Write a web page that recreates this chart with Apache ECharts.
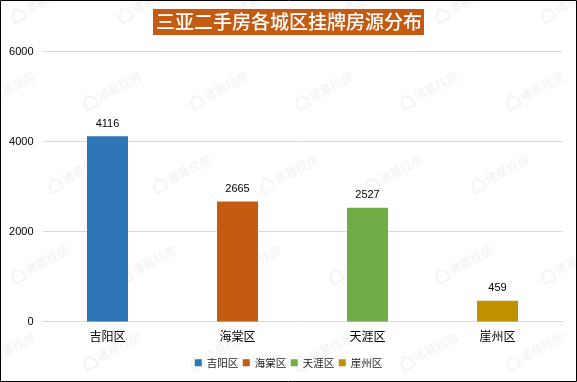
<!DOCTYPE html>
<html>
<head>
<meta charset="utf-8">
<style>
  html, body { margin: 0; padding: 0; background: #fff; }
  #main { width: 577px; height: 382px; }
</style>
<script src="https://cdn.jsdelivr.net/npm/echarts@6/dist/echarts.min.js"></script>
</head>
<body>
<div id="main"></div>
<script>
const titleText = '三亚二手房各城区挂牌房源分布';
const districts = ['吉阳区', '海棠区', '天涯区', '崖州区'];
const listings = [4116, 2665, 2527, 459];
const barColors = ['#2e75b6', '#c55a11', '#70ad47', '#bf9000'];
const yTicks = [0, 2000, 4000, 6000];

const watermarkText = '诸葛找房';
const watermarkRows = [
  {y: 15, xs: [18, 125, 230, 336, 442, 548]},
  {y: 102, xs: [-16, 90, 197, 302, 407, 513]},
  {y: 185, xs: [55, 160, 267, 372, 478]},
  {y: 276, xs: [18, 125, 230, 336, 442, 548]},
  {y: 363, xs: [-16, 90, 197, 302, 407, 513]},
];

const font = '"Noto Sans CJK SC", "Liberation Sans", sans-serif';
const latin = '"Liberation Sans", sans-serif';

// one series per district so the legend gets four entries
const series = districts.map((name, i) => ({
  name: name,
  type: 'bar',
  barWidth: 41,
  barGap: '-100%',
  itemStyle: {color: barColors[i]},
  label: {
    show: true,
    position: 'top',
    distance: 7,
    color: '#000',
    fontSize: 11,
    fontFamily: latin,
  },
  data: districts.map((d, j) => (j === i ? listings[i] : null)),
}));

// faint site watermark: little house plus the name, tilted up to the right
const watermarks = [];
watermarkRows.forEach(row => {
  row.xs.forEach(x => {
    watermarks.push({
      type: 'group',
      x: x,
      y: row.y,
      rotation: 27 * Math.PI / 180,
      silent: true,
      z: 50,
      children: [
        {type: 'polygon', shape: {points: [[-6, -1], [0, -7], [6, -1], [6, 6], [-6, 6]]},
          style: {fill: 'none', stroke: 'rgba(130,130,130,0.09)', lineWidth: 2}},
        {type: 'text', x: 9, y: -7,
          style: {text: watermarkText, fill: 'rgba(130,130,130,0.11)', fontSize: 12, fontFamily: font}},
      ],
    });
  });
});

const chart = echarts.init(document.getElementById('main'));
chart.setOption({
  animation: false,
  backgroundColor: '#fff',
  title: {
    text: titleText,
    left: 153,
    top: 9,
    padding: [3, 2, 3, 3],
    backgroundColor: '#c55a11',
    textStyle: {color: '#fff', fontSize: 19, fontWeight: 500, fontFamily: font, lineHeight: 20},
  },
  legend: {
    bottom: 9,
    left: 'center',
    icon: 'rect',
    itemWidth: 7,
    itemHeight: 7,
    itemGap: 4.5,
    textStyle: {color: '#222', fontSize: 10.5, fontFamily: font},
    data: districts,
  },
  grid: {left: 42.5, right: 14.5, top: 51.5, bottom: 60.5},
  xAxis: {
    type: 'category',
    data: districts,
    axisTick: {show: false},
    axisLine: {lineStyle: {color: '#d9d9d9'}},
    axisLabel: {color: '#000', fontSize: 12, margin: 9, fontFamily: font},
  },
  yAxis: {
    type: 'value',
    min: yTicks[0],
    max: yTicks[yTicks.length - 1],
    interval: yTicks[1] - yTicks[0],
    axisLine: {show: false},
    axisTick: {show: false},
    splitLine: {lineStyle: {color: '#d9d9d9'}},
    axisLabel: {
      color: '#000',
      fontSize: 11,
      margin: 9,
      fontFamily: latin,
      formatter: v => String(v),
    },
  },
  series: series,
  graphic: watermarks.concat([
    {type: 'rect', silent: true, z: 100, shape: {x: 0.5, y: 0.5, width: 576, height: 381},
      style: {fill: 'none', stroke: '#000', lineWidth: 1}},
  ]),
});
</script>
</body>
</html>
